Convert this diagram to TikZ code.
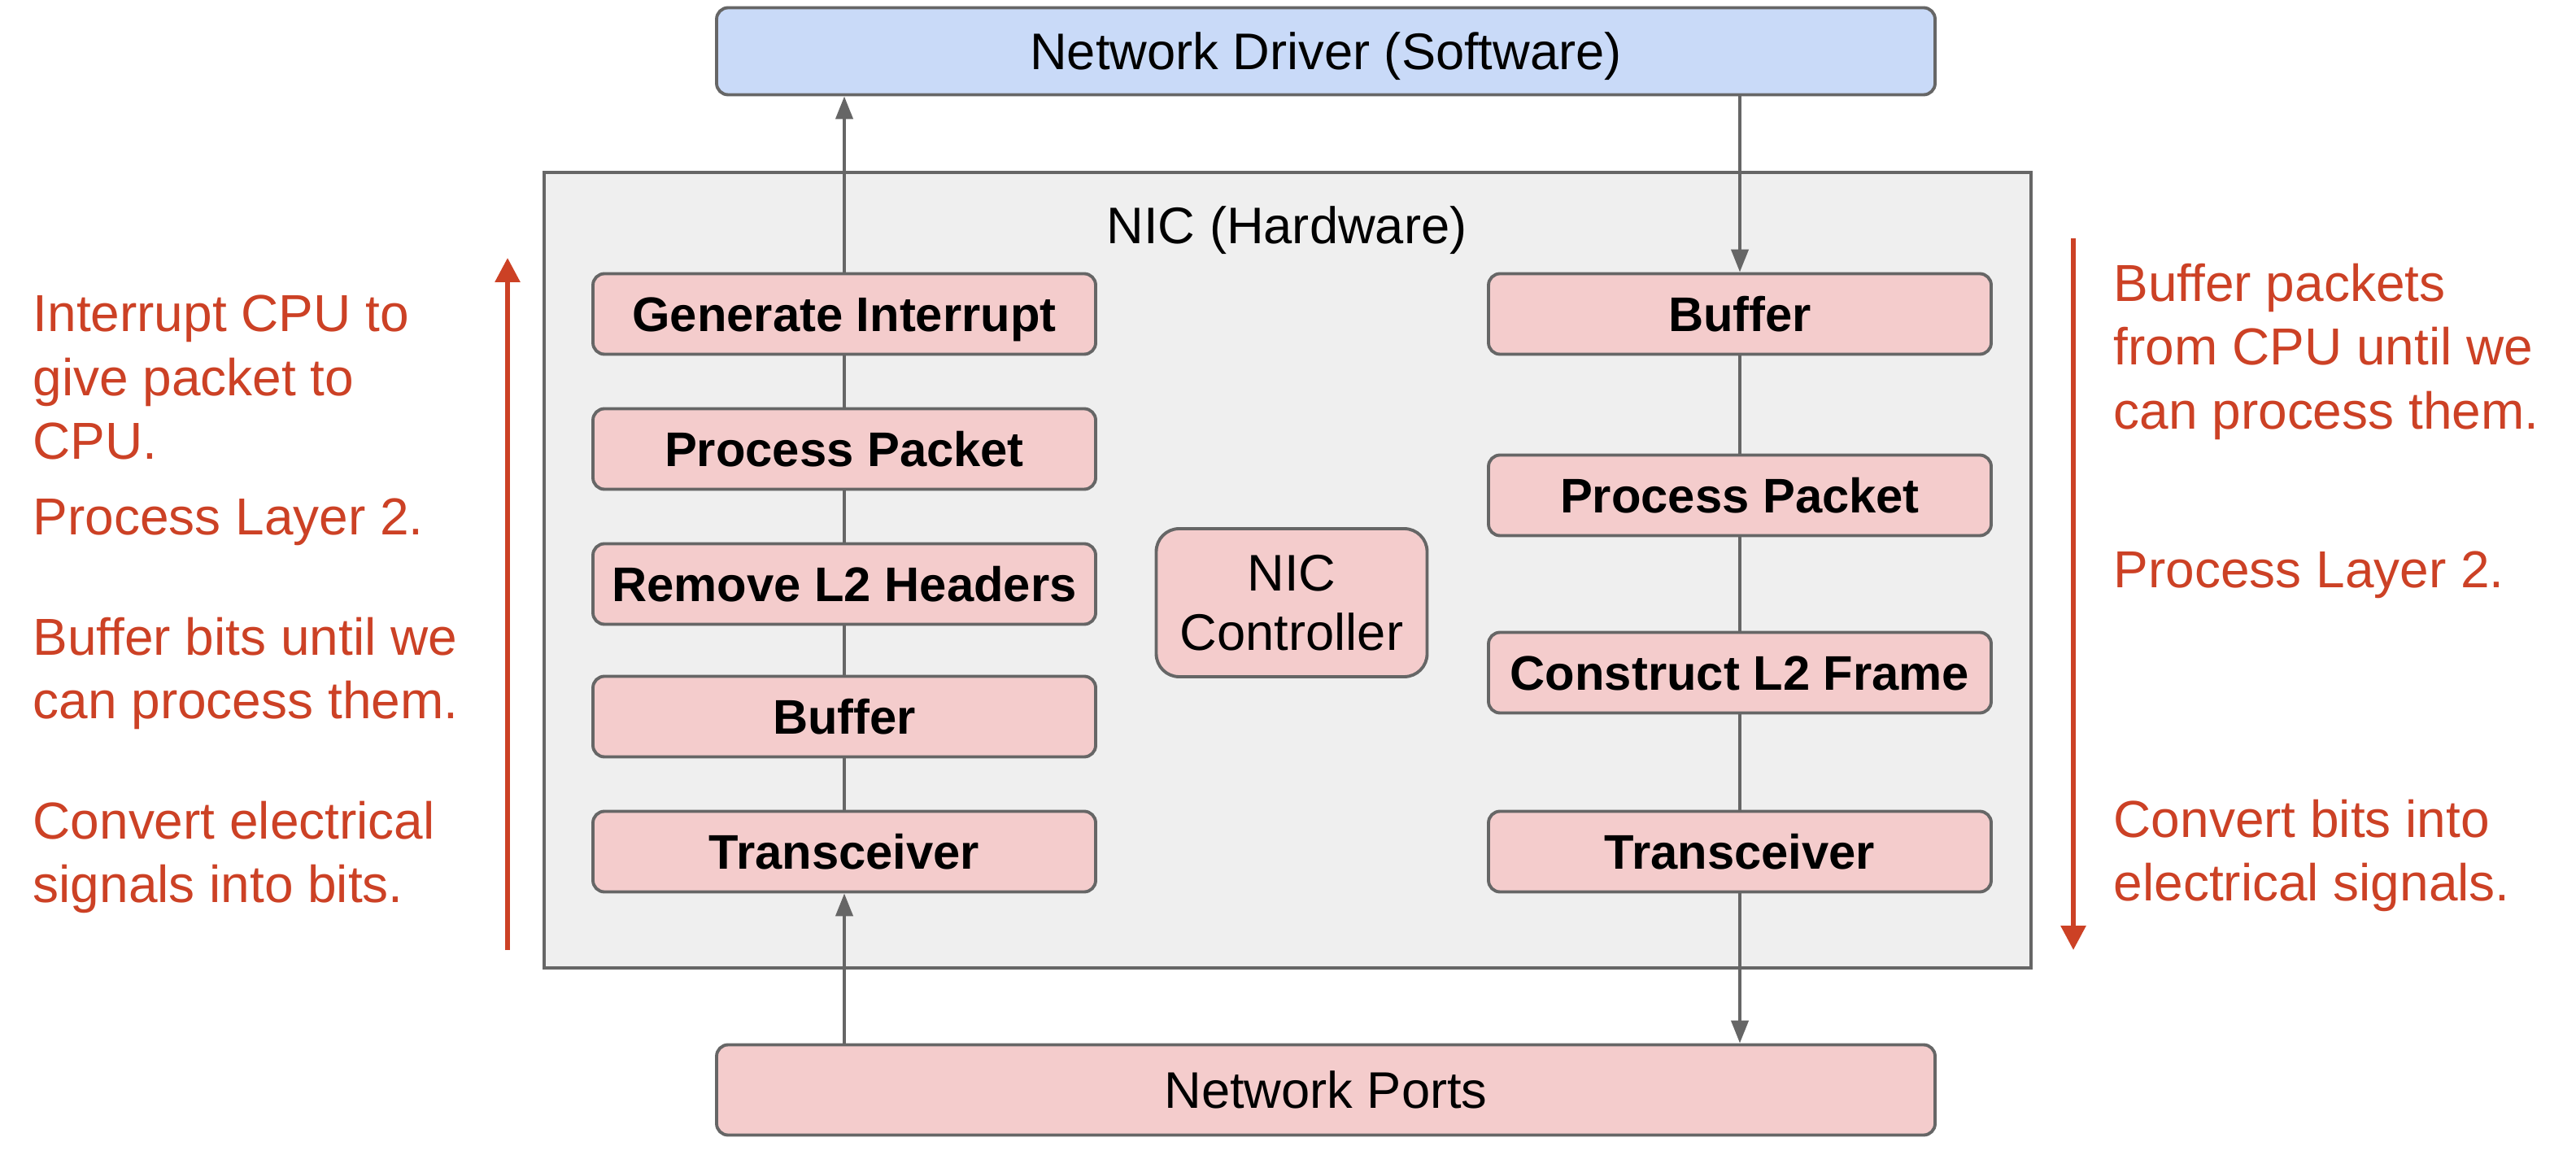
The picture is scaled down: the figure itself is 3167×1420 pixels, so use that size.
\documentclass[tikz,border=0pt]{standalone}
\usepackage{fontspec}
\setmainfont{Liberation Sans}
\usetikzlibrary{arrows.meta}
\definecolor{drvblue}{HTML}{C9DAF8}
\definecolor{hwpink}{HTML}{F4CCCC}
\definecolor{nicgray}{HTML}{EFEFEF}
\definecolor{edge}{HTML}{666666}
\definecolor{notered}{HTML}{CC4125}
\tikzset{
  stage/.style = {rectangle, rounded corners=4pt, draw=edge, fill=hwpink, line width=1.1pt,
                  minimum width=6.18cm, minimum height=0.99cm, inner sep=0pt,
                  text height=12.2pt, text depth=0pt,
                  font=\fontsize{17}{20}\selectfont\bfseries},
  wide/.style  = {rectangle, rounded corners=4pt, draw=edge, fill=#1, line width=1.1pt,
                  minimum width=14.98cm, minimum height=1.07cm, inner sep=0pt,
                  text height=12.9pt, text depth=0pt,
                  font=\fontsize{18}{21}\selectfont},
  link/.style  = {draw=edge, line width=1.2pt},
  flow/.style  = {link, -{Triangle[length=0.28cm, width=0.21cm]}},
  note/.style  = {text=notered, align=left, anchor=north west, inner sep=0pt,
                  font=\fontsize{18.2}{22.4}\selectfont},
  dir/.style   = {draw=notered, line width=1.7pt, -{Triangle[length=0.3cm, width=0.3cm]}},
}

\begin{document}
\begin{tikzpicture}[x=0.1mm, y=-0.1mm]
  \useasboundingbox (0,0) rectangle (3167,1420);

  %% ---------------- hardware frame ----------------------------------------------------------
  \node[rectangle, draw=edge, fill=nicgray, line width=1.1pt, minimum width=18.28cm,
        minimum height=9.78cm, inner sep=0pt] (nic) at (1583,701) {};
  \node[font=\fontsize{18}{21}\selectfont] (nictitle) at (1582,283) {NIC (Hardware)};

  \node[wide=drvblue] (driver) at (1630,63) {Network Driver (Software)};
  \node[wide=hwpink, minimum height=1.11cm] (ports) at (1630,1340) {Network Ports};

  %% ---------------- receive side ------------------------------------------------------------
  \node[stage] (gen)  at (1038,386)  {Generate Interrupt};
  \node[stage] (ppL)  at (1038,552)  {Process Packet};
  \node[stage] (rmv)  at (1038,718)  {Remove L2 Headers};
  \node[stage] (bufL) at (1038,881)  {Buffer};
  \node[stage] (trxL) at (1038,1047) {Transceiver};

  %% ---------------- transmit side -----------------------------------------------------------
  \node[stage] (bufR) at (2139,386)  {Buffer};
  \node[stage] (ppR)  at (2139,609)  {Process Packet};
  \node[stage] (l2f)  at (2139,827)  {Construct L2 Frame};
  \node[stage] (trxR) at (2139,1047) {Transceiver};

  \node[rectangle, rounded corners=8pt, draw=edge, fill=hwpink, line width=1.1pt,
        minimum width=3.33cm, minimum height=1.82cm, inner sep=0pt, align=center,
        font=\fontsize{18}{20.7}\selectfont] (ctrl) at (1588,741) {NIC\\Controller};

  \foreach \a/\b in {gen/ppL, ppL/rmv, rmv/bufL, bufL/trxL, bufR/ppR, ppR/l2f, l2f/trxR}
    \draw[link] (\a.south) -- (\b.north);
  \draw[flow] (gen.north) -- (gen.north |- driver.south);
  \draw[flow] (ports.north -| trxL) -- (trxL.south);
  \draw[flow] (driver.south -| bufR) -- (bufR.north);
  \draw[flow] (trxR.south) -- (trxR.south |- ports.north);

  %% ---------------- side notes --------------------------------------------------------------
  \coordinate (upbot) at (624,1168);
  \coordinate (uptop) at (624,317);
  \coordinate (dntop) at (2549,293);
  \coordinate (dnbot) at (2549,1168);
  \draw[dir] (upbot) -- (uptop);
  \draw[dir] (dntop) -- (dnbot);

  \node[note] (rxirq) at (40,362) {Interrupt CPU to\\give packet to\\CPU.};
  \node[note] (rxl2)  at (40,612) {Process Layer 2.};
  \node[note] (rxbuf) at (40,758) {Buffer bits until we\\can process them.};
  \node[note] (rxphy) at (40,984) {Convert electrical\\signals into bits.};

  \node[note] (txbuf) at (2598,323) {Buffer packets\\from CPU until we\\can process them.};
  \node[note] (txl2)  at (2598,677) {Process Layer 2.};
  \node[note] (txphy) at (2598,982) {Convert bits into\\electrical signals.};
\end{tikzpicture}
\end{document}
